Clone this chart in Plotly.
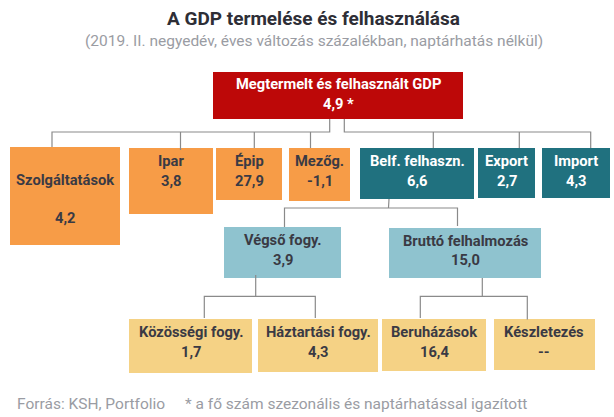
import plotly.graph_objects as go

# node data
labels = ["Megtermelt és felhasznált GDP", "Szolgáltatások", "Ipar", "Épip", "Mezőg.",
          "Belf. felhaszn.", "Export", "Import", "Végső fogy.", "Bruttó felhalmozás",
          "Közösségi fogy.", "Háztartási fogy.", "Beruházások", "Készletezés"]
values = ["4,9 *", "4,2", "3,8", "27,9", "-1,1", "6,6", "2,7", "4,3", "3,9", "15,0",
          "1,7", "4,3", "16,4", "--"]

title = "A GDP termelése és felhasználása"
subtitle = "(2019. II. negyedév, éves változás százalékban, naptárhatás nélkül)"
source = "Forrás: KSH, Portfolio"
note = "* a fő szám szezonális és naptárhatással igazított"

RED = "#bd0808"
ORANGE = "#f79c47"
TEAL = "#20717f"
LIGHT = "#8fc3cf"
YELLOW = "#f5d285"
DARK = "#3a3a44"
GREY = "#9a9ca3"
LINE = "#8a8a8a"

# layout of the boxes, in pixels: x0, x1, y0, y1
boxes = [(213, 463, 72, 119), (10, 120, 147, 245), (129, 213, 148, 214), (216, 282, 148, 200),
         (289, 350, 148, 201), (360, 474, 148, 199), (478, 535, 148, 198), (542, 610, 148, 198),
         (224, 341, 227, 278), (389, 541, 228, 278), (129, 252, 319, 373), (258, 378, 319, 372),
         (382, 486, 319, 371), (494, 595, 319, 370)]
colors = [RED, ORANGE, ORANGE, ORANGE, ORANGE, TEAL, TEAL, TEAL, LIGHT, LIGHT,
          YELLOW, YELLOW, YELLOW, YELLOW]
text_colors = ["white", DARK, DARK, DARK, DARK, "white", "white", "white", DARK, DARK,
               DARK, DARK, DARK, DARK]
# text centre x, label y, value y
text_pos = [(338, 84, 103.5), (65, 180, 218), (171, 161, 181), (249, 161, 181), (319.5, 161, 181),
            (417, 161, 181), (506.7, 161, 181), (576, 161, 181), (282.5, 240, 260), (465.3, 241, 260),
            (190.7, 332, 352), (318, 332, 352), (434, 332, 352), (544, 332, 352)]

# connectors as polylines
connectors = [
    [(329.7, 119), (329.7, 132), (52, 132), (52, 147)],
    [(180.5, 132), (180.5, 150)],
    [(254.3, 132), (254.3, 148)],
    [(310.5, 132), (310.5, 148)],
    [(344.3, 119), (344.3, 132), (590.7, 132), (590.7, 148)],
    [(433.3, 132), (433.3, 148)],
    [(519.3, 132), (519.3, 148)],
    [(389, 199), (388.5, 208)],
    [(284.5, 227), (284.5, 208), (457.5, 208), (457.5, 226)],
    [(255.7, 275), (255.7, 296.3)],
    [(204.3, 318), (204.3, 296.3), (315.3, 296.3), (315.3, 318)],
    [(482.3, 278), (482.3, 296.3)],
    [(420.3, 318), (420.3, 296.3), (527.3, 296.3), (527.3, 319.5)],
]

fig = go.Figure()

for (x0, x1, y0, y1), col in zip(boxes, colors):
    fig.add_trace(go.Scatter(x=[x0, x1, x1, x0, x0], y=[y0, y0, y1, y1, y0], mode="lines",
                             fill="toself", fillcolor=col, line=dict(width=0), hoverinfo="skip"))

for path in connectors:
    fig.add_trace(go.Scatter(x=[p[0] for p in path], y=[p[1] for p in path], mode="lines",
                             line=dict(color=LINE, width=1.2), hoverinfo="skip"))

annots = []
for lab, val, (tx, ly, vy), tc in zip(labels, values, text_pos, text_colors):
    annots.append(dict(x=tx, y=ly, text=lab, font=dict(family="Roboto", size=14.7, color=tc, weight="bold")))
    annots.append(dict(x=tx, y=vy, text=val, font=dict(family="Roboto", size=14.7, color=tc, weight="bold")))

annots.append(dict(x=313.5, y=18, text=title, font=dict(family="Roboto", size=19, color="#2e2e36", weight="bold")))
annots.append(dict(x=313.5, y=41, text=subtitle, font=dict(family="Roboto", size=15.5, color=GREY)))
annots.append(dict(x=14.5, y=404, text=source, xanchor="left", font=dict(family="Roboto", size=15.5, color=GREY)))
annots.append(dict(x=183, y=404, text=note, xanchor="left", font=dict(family="Roboto", size=15.5, color=GREY)))

for a in annots:
    a.update(showarrow=False, xref="x", yref="y")
    a.setdefault("xanchor", "center")
    a["yanchor"] = "middle"

fig.update_layout(
    width=614,
    height=417,
    margin=dict(l=0, r=0, t=0, b=0),
    paper_bgcolor="white",
    plot_bgcolor="white",
    showlegend=False,
    annotations=annots,
    xaxis=dict(range=[0, 614], visible=False, fixedrange=True),
    yaxis=dict(range=[417, 0], visible=False, fixedrange=True),
)

# page has a default body margin, drop it so the chart fills the window
fig.write_html("out.html", config=dict(displayModeBar=False),
               post_script="document.body.style.margin='0';document.body.style.overflow='hidden';")
